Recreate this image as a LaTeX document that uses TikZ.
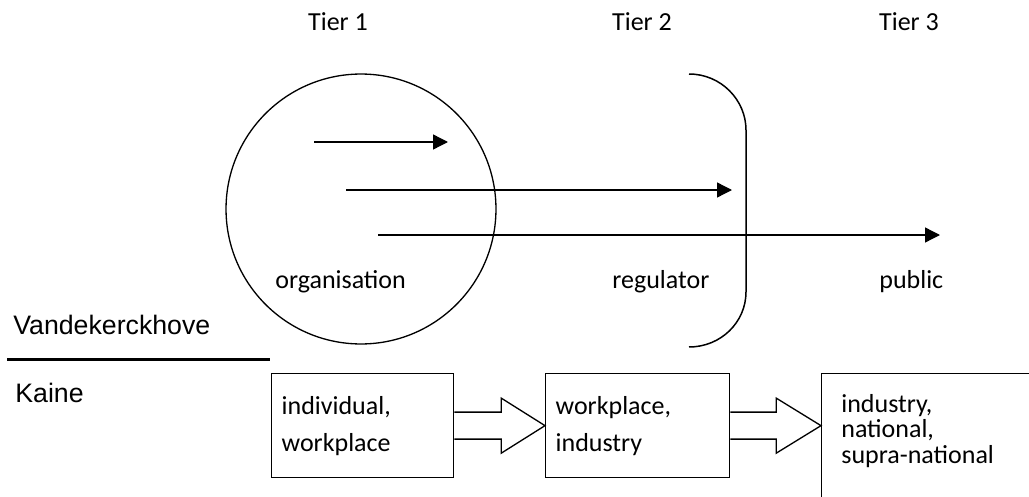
\documentclass[tikz,border=0pt]{standalone}
\usepackage{fontspec}
\setmainfont{Carlito}
\newfontfamily\arialfont{Liberation Sans}
\usetikzlibrary{arrows.meta,calc}

\begin{document}
\begin{tikzpicture}[x=0.02cm,y=-0.02cm,
    every node/.style={inner sep=0pt,font=\fontsize{14.8}{17}\selectfont},
    flow/.style={line width=0.75pt,-{Triangle[length=0.3cm,width=0.3cm]}},
    tierbox/.style={draw,line width=0.75pt,align=left,inner xsep=0.2cm,inner ysep=0pt,
        minimum height=2.08cm,font=\fontsize{14.8}{21}\selectfont},
    bigarrow/.style={line width=0.75pt,line join=miter},
    author/.style={font=\arialfont\fontsize{15.2}{18}\selectfont}]
  \useasboundingbox (0,0) rectangle (1029,497);

  \node[anchor=base] (t1) at (338,31) {Tier 1};
  \node[anchor=base] (t2) at (642,31) {Tier 2};
  \node[anchor=base] (t3) at (909,31) {Tier 3};

  % Vandekerckhove
  \node[draw,circle,line width=0.75pt,minimum size=5.4cm] (org) at (361,209) {};
  \draw[line width=0.85pt] (689,74) .. controls (721,74) and (746,100) .. (746,130)
     -- (746,292) .. controls (746,322) and (721,347) .. (689,347);
  \coordinate (s1) at (314,142);
  \coordinate (e1) at (448,142);
  \coordinate (s2) at (346,190);
  \coordinate (e2) at (732,190);
  \coordinate (s3) at (378,235);
  \coordinate (e3) at (940,235);
  \draw[flow] (s1) -- (e1);
  \draw[flow] (s2) -- (e2);
  \draw[flow] (s3) -- (e3);
  \node[anchor=base west] (orglab) at (275,288) {organisation};
  \node[anchor=base west] (reglab) at (612,288) {regulator};
  \node[anchor=base west] (publab) at (879,288) {public};

  \node[author,anchor=base west] (vdk) at (13,334) {Vandekerckhove};
  \draw[line width=0.06cm] (7,359) -- (270,359);
  \node[author,anchor=base west] (kaine) at (15,402) {Kaine};

  % Kaine
  \node[tierbox,text width=3.24cm,anchor=north west] (b1) at (271,373) {individual,\\workplace};
  \node[tierbox,text width=3.28cm,anchor=north west] (b2) at (545,373) {workplace,\\industry};
  \node[draw,line width=0.75pt,minimum width=4.3cm,minimum height=2.6cm,anchor=north west] (b3) at (821,373) {};
  \node[anchor=north west,align=left,font=\fontsize{14.8}{14.5}\selectfont] (b3txt)
     at ($(b3.north west)+(20,21)$) {industry,\\national,\\supra-national};
  \draw[bigarrow] ($(b1.east)+(0,-13.5)$) -- ++(47,0) -- ++(0,-14) -- (b2.west)
     -- ($(b1.east)+(47,27.5)$) -- ++(0,-14) -- ++(-47,0);
  \draw[bigarrow] ($(b2.east)+(0,-13.5)$) -- ++(46,0) -- ++(0,-14) -- (b2 -| b3.west)
     -- ($(b2.east)+(46,27.5)$) -- ++(0,-14) -- ++(-46,0);
\end{tikzpicture}
\end{document}
